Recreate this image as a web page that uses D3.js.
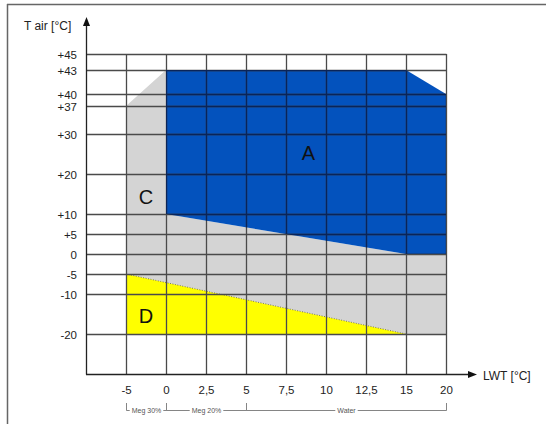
<!DOCTYPE html>
<html><head><meta charset="utf-8">
<script src="https://cdn.jsdelivr.net/npm/d3@7"></script>
<style>html,body{margin:0;padding:0;background:#fff;}svg{display:block;font-family:"Liberation Sans",Arial,sans-serif;}</style>
</head><body>
<svg id="c" width="546" height="424"></svg>
<script>
const xTicks = [-5, 0, 2.5, 5, 7.5, 10, 12.5, 15, 20];
const xTickLabels = ["-5", "0", "2,5", "5", "7,5", "10", "12,5", "15", "20"];
const yTicks = [45, 43, 40, 37, 30, 20, 10, 5, 0, -5, -10, -20];
const yTickLabels = ["+45", "+43", "+40", "+37", "+30", "+20", "+10", "+5", "0", "-5", "-10", "-20"];
const regionC = [[-5, 37], [0, 43], [0, 10], [15, 0], [20, 0], [20, -20], [15, -20], [-5, -5]];
const regionA = [[0, 43], [15, 43], [20, 40], [20, 0], [15, 0], [0, 10]];
const regionD = [[-5, -5], [15, -20], [-5, -20]];
const regionLabels = [{t: "A", x: 8.9, y: 25.3}, {t: "C", x: -2.5, y: 14.3}, {t: "D", x: -2.5, y: -15.5}];
const brackets = [{label: "Meg 30%", from: -5, to: 0}, {label: "Meg 20%", from: 0, to: 5}, {label: "Water", from: 5, to: 20}];

const svg = d3.select("#c");
const x = d3.scaleLinear().domain([-10, 0, 15, 20]).range([86, 166, 406, 446]);
const y = d3.scaleLinear().domain([-30, 40, 45]).range([374, 94, 54]);
const xMin = -10, xMax = 20, yMin = -30, yMax = 45;

// frame
svg.append("line").attr("x1", 7).attr("x2", 546).attr("y1", 4.5).attr("y2", 4.5).attr("stroke", "#666").attr("stroke-width", 1.5);
svg.append("line").attr("x1", 7.5).attr("x2", 7.5).attr("y1", 4).attr("y2", 424).attr("stroke", "#666").attr("stroke-width", 1.5);

const line = d3.line().x(d => x(d[0])).y(d => y(d[1]));
svg.append("path").attr("d", line(regionC) + "Z").attr("fill", "#d4d4d4");
svg.append("path").attr("d", line(regionA) + "Z").attr("fill", "#0352bd");
svg.append("path").attr("d", line(regionD) + "Z").attr("fill", "#ffff00");
svg.append("path").attr("d", line([regionD[0], regionD[1]])).attr("stroke", "#555").attr("stroke-width", 0.8).attr("stroke-dasharray", "1,1.5").attr("fill", "none");

// grid
function gridPath() {
  const p = d3.path();
  yTicks.forEach(d => {
    const yy = Math.round(y(d)) + 0.5;
    p.moveTo(x(xMin), yy); p.lineTo(x(xMax) + 0.5, yy);
  });
  xTicks.forEach(d => {
    const xx = Math.round(x(d)) + 0.5;
    p.moveTo(xx, y(yMax)); p.lineTo(xx, y(yMin));
  });
  return p.toString();
}
const gp = gridPath();
svg.append("path").attr("d", gp).attr("fill", "none").attr("stroke", "#4a4a4a").attr("stroke-width", 1.3);
svg.append("clipPath").attr("id", "clipA").append("path").attr("d", line(regionA) + "Z");
svg.append("path").attr("d", gp).attr("fill", "none").attr("stroke", "#0a2458").attr("stroke-width", 1.3).attr("clip-path", "url(#clipA)");

// axes
svg.append("line").attr("x1", x(xMin) + 0.5).attr("x2", x(xMin) + 0.5).attr("y1", y(yMin) + 0.5).attr("y2", 24).attr("stroke", "#222").attr("stroke-width", 1.3);
svg.append("line").attr("x1", x(xMin)).attr("x2", 470).attr("y1", y(yMin) + 0.5).attr("y2", y(yMin) + 0.5).attr("stroke", "#222").attr("stroke-width", 1.3);
svg.append("path").attr("d", `M${x(xMin)+0.5},17 L${x(xMin)+4},26 L${x(xMin)-3},26 Z`).attr("fill", "#111");
svg.append("path").attr("d", `M477,${y(yMin)+0.5} L468,${y(yMin)-3} L468,${y(yMin)+4} Z`).attr("fill", "#111");

svg.append("text").attr("x", 24).attr("y", 30).attr("font-size", 12).attr("fill", "#222").text("T air [°C]");
svg.append("text").attr("x", 483).attr("y", 380).attr("font-size", 12).attr("fill", "#222").text("LWT [°C]");

// tick labels
svg.append("g").selectAll("text").data(yTicks).join("text")
  .attr("x", 77).attr("y", d => y(d) + 0.5).attr("dy", "0.35em").attr("text-anchor", "end")
  .attr("font-size", 11.5).attr("fill", "#222").text((d, i) => yTickLabels[i]);
svg.append("g").selectAll("text").data(xTicks).join("text")
  .attr("x", d => x(d) + 0.5).attr("y", 394).attr("text-anchor", "middle")
  .attr("font-size", 11.5).attr("fill", "#222").text((d, i) => xTickLabels[i]);

// region labels
svg.append("g").selectAll("text").data(regionLabels).join("text")
  .attr("x", d => x(d.x)).attr("y", d => y(d.y)).attr("dy", "0.35em").attr("text-anchor", "middle")
  .attr("font-size", 20).attr("fill", "#111").text(d => d.t);

// brackets
const bg = svg.append("g");
const by = 410.5;
brackets.forEach(b => {
  const x0 = Math.round(x(b.from)) + 0.5, x1 = Math.round(x(b.to)) + 0.5, mid = (x0 + x1) / 2;
  const t = bg.append("text").attr("x", mid).attr("y", by + 2).attr("text-anchor", "middle")
    .attr("font-size", 7).attr("fill", "#555").text(b.label);
  const w = t.node().getComputedTextLength();
  bg.append("line").attr("x1", x0).attr("x2", mid - w / 2 - 2).attr("y1", by).attr("y2", by).attr("stroke", "#666").attr("stroke-width", 0.8);
  bg.append("line").attr("x1", mid + w / 2 + 2).attr("x2", x1).attr("y1", by).attr("y2", by).attr("stroke", "#666").attr("stroke-width", 0.8);
});
const ends = Array.from(new Set(brackets.flatMap(b => [b.from, b.to])));
ends.forEach(v => {
  bg.append("line").attr("x1", Math.round(x(v)) + 0.5).attr("x2", Math.round(x(v)) + 0.5).attr("y1", 403).attr("y2", by).attr("stroke", "#666").attr("stroke-width", 0.8);
});
</script>
</body></html>
